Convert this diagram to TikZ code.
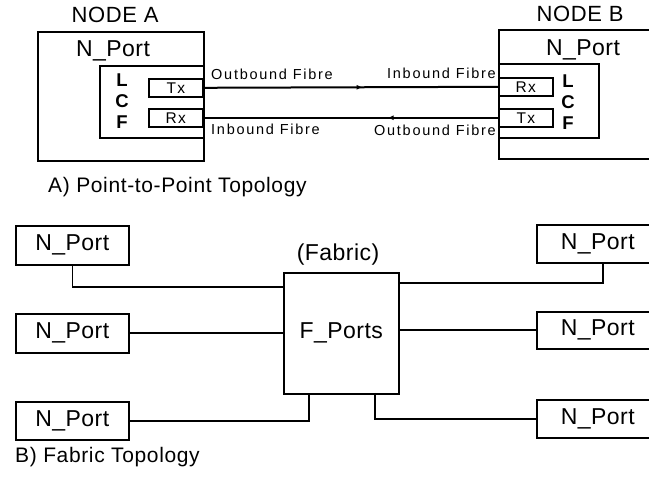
\documentclass[tikz,border=0pt]{standalone}
\usepackage{fontspec}
\setmainfont{Liberation Sans}
\usetikzlibrary{arrows.meta,decorations.markings}
\newcommand\fsnode{\fontsize{22}{24}\selectfont\addfontfeature{LetterSpace=3}}
\newcommand\fsport{\fontsize{23}{25}\selectfont\addfontfeature{LetterSpace=2}}
\newcommand\fscap{\fontsize{21}{23}\selectfont\addfontfeature{LetterSpace=3}}
\newcommand\fslbl{\fontsize{14.5}{16}\selectfont\addfontfeature{LetterSpace=12}}
\newcommand\fstx{\fontsize{15.5}{16}\selectfont\addfontfeature{LetterSpace=8}}
\newcommand\fslcf{\fontsize{18.5}{20}\selectfont\bfseries}
\begin{document}
\begin{tikzpicture}[x=1pt,y=-1pt,
  box/.style={draw, line width=1.9pt, inner sep=0pt, anchor=north west},
  thinbox/.style={draw, line width=1.6pt, inner sep=0pt, anchor=north west, font=\fstx},
  portbox/.style={draw, line width=1.6pt, inner sep=0pt, anchor=north west, font=\fsport},
  txt/.style={inner sep=0pt},
  lbl/.style={inner sep=0pt, font=\fslbl},
  lcf/.style={inner sep=0pt, font=\fslcf},
  fibre/.style={line width=2pt},
  conn/.style={line width=1.6pt},
  arrowmid/.style={postaction={decorate}, decoration={markings, mark=at position #1 with {\arrow{Latex[length=6pt,width=5pt]}}}}
]
\useasboundingbox (0,0) rectangle (649,478);
\clip (0,0) rectangle (649,478);

% ---------- A) point to point ----------
\node[txt, font=\fsnode] (tA) at (115,15) {NODE A};
\node[txt, font=\fsnode] (tB) at (580,14) {NODE B};

\node[box, minimum width=166pt, minimum height=129pt] (nodeA) at (37,31) {};
\node[txt, font=\fsport, anchor=base] (npA) at (113,57) {N\_Port};
\node[box, minimum width=104pt, minimum height=72pt] (lcfA) at (99,65) {};
\node[thinbox, minimum width=54pt, minimum height=18pt] (txA) at (148,78) {Tx};
\node[thinbox, minimum width=54pt, minimum height=18pt] (rxA) at (148,108) {Rx};
\node[lcf] (lA) at (122,80) {L};
\node[lcf] (cA) at (122,101) {C};
\node[lcf] (fA) at (122,122) {F};

\node[box, minimum width=166pt, minimum height=129pt] (nodeB) at (498,29) {};
\node[txt, font=\fsport, anchor=base] (npB) at (583,56) {N\_Port};
\node[box, minimum width=100pt, minimum height=74pt] (lcfB) at (498,63) {};
\node[thinbox, minimum width=54pt, minimum height=18pt] (rxB) at (498,77) {Rx};
\node[thinbox, minimum width=54pt, minimum height=18pt] (txB) at (498,108) {Tx};
\node[lcf] (lB) at (568,81) {L};
\node[lcf] (cB) at (568,102) {C};
\node[lcf] (fB) at (568,123) {F};

\draw[fibre, arrowmid=0.54] (txA.east) -- (rxB.west);
\draw[fibre, arrowmid=0.375] (txB.west) -- (rxA.east);

\node[lbl, anchor=base west] (oA) at (211,80) {Outbound Fibre};
\node[lbl, anchor=base west] (iA) at (211,135) {Inbound Fibre};
\node[lbl, anchor=base east] (iB) at (496,79) {Inbound Fibre};
\node[lbl, anchor=base east] (oB) at (496,136) {Outbound Fibre};

\node[txt, font=\fscap, anchor=base west] (capA) at (48,193) {A) Point-to-Point Topology};

% ---------- B) fabric ----------
\node[portbox, minimum width=113pt, minimum height=39pt] (npL1) at (15,225) {N\_Port};
\node[portbox, minimum width=113pt, minimum height=39pt] (npL2) at (15,313) {N\_Port};
\node[portbox, minimum width=113pt, minimum height=38pt] (npL3) at (15,401) {N\_Port};
\node[portbox, minimum width=122pt, minimum height=38pt] (npR1) at (536,224) {N\_Port};
\node[portbox, minimum width=122pt, minimum height=37pt] (npR2) at (536,311) {N\_Port};
\node[portbox, minimum width=122pt, minimum height=38pt] (npR3) at (536,399) {N\_Port};

\node[portbox, minimum width=115pt, minimum height=121pt] (fab) at (283,272) {F\_Ports};
\node[txt, font=\fsport, anchor=base] (fabt) at (338,261) {(Fabric)};

\coordinate (jL1) at (283,287);
\coordinate (jL3) at (309,393);
\coordinate (jR1) at (398,283);
\coordinate (jR3) at (375,393);
\coordinate (cR1) at (603,262);

\draw[conn] (npL1.south) |- (jL1);
\draw[conn] (npL2.east) -- (npL2.east -| fab.west);
\draw[conn] (npL3.east) -| (jL3);
\draw[conn] (jR1) -| (cR1);
\draw[conn] (npR2.west) -- (npR2.west -| fab.east);
\draw[conn] (jR3) |- (npR3.west);

\node[txt, font=\fscap, anchor=base west] (capB) at (15,463) {B) Fabric Topology};
\end{tikzpicture}
\end{document}
